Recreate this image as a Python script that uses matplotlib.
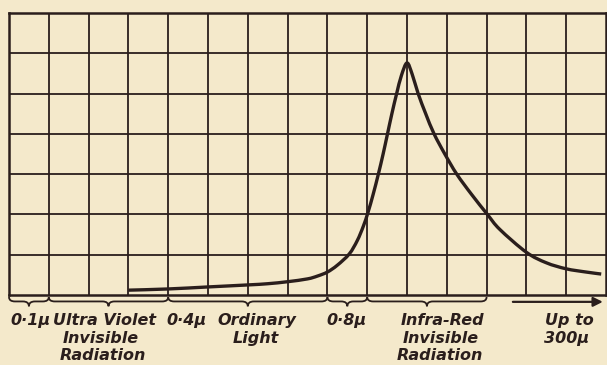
import numpy as np
import matplotlib
matplotlib.use("Agg")
import matplotlib.pyplot as plt
from matplotlib.path import Path
from matplotlib.patches import PathPatch

# spectrum curve, in grid squares (x) and squares of height (y)
curve_x = [3.0, 4.0, 5.0, 6.0, 6.5, 7.0, 7.5, 7.75, 8.0, 8.25, 8.55, 8.75, 8.9,
           9.02, 9.15, 9.28, 9.4, 9.51, 9.62, 9.74, 9.86, 10.0, 10.13, 10.28,
           10.47, 10.68, 10.95, 11.25, 11.62, 12.02, 12.33, 13.0, 13.5, 14.0,
           14.5, 14.88]
curve_y = [0.12, 0.15, 0.2, 0.25, 0.28, 0.33, 0.40, 0.47, 0.57, 0.74, 1.02, 1.35, 1.7,
           2.05, 2.5, 3.0, 3.5, 4.0, 4.5, 5.0, 5.45, 5.76, 5.48, 5.0,
           4.5, 4.0, 3.5, 3.0, 2.5, 2.0, 1.63, 1.06, 0.8, 0.65,
           0.57, 0.52]

# bands under the axis: (start, end)
brace_spans = [(0, 1), (1, 4), (4, 8), (8, 9), (9, 12)]

# labels: (x centre, line index, text)
labels = [
    (0.53, 0, "0·1μ"),
    (2.39, 0, "Ultra Violet"),
    (2.3, 1, "Invisible"),
    (2.35, 2, "Radiation"),
    (4.45, 0, "0·4μ"),
    (6.23, 0, "Ordinary"),
    (6.2, 1, "Light"),
    (8.49, 0, "0·8μ"),
    (10.88, 0, "Infra-Red"),
    (10.85, 1, "Invisible"),
    (10.83, 2, "Radiation"),
    (14.07, 0, "Up to"),
    (14.02, 1, "300μ"),
]
line_y = [-0.74, -1.19, -1.62]

ink = "#2a1e1c"
paper = "#f4e9cb"


def smooth_path(xs, ys):
    # Catmull-Rom through the points, written as cubic Bezier segments
    p = np.column_stack([xs, ys])
    verts = [tuple(p[0])]
    codes = [Path.MOVETO]
    n = len(p)
    for i in range(n - 1):
        p0 = p[i - 1] if i > 0 else p[i]
        p1, p2 = p[i], p[i + 1]
        p3 = p[i + 2] if i + 2 < n else p[i + 1]
        c1 = p1 + (p2 - p0) / 6
        c2 = p2 - (p3 - p1) / 6
        verts += [tuple(c1), tuple(c2), tuple(p2)]
        codes += [Path.CURVE4] * 3
    return Path(verts, codes)


fig = plt.figure(figsize=(6.07, 3.65), dpi=100, facecolor=paper)
ax = fig.add_axes([9 / 607, 70 / 365, 597 / 607, 282 / 365])
ax.set_facecolor(paper)
ax.set_xlim(0, 15)
ax.set_ylim(0, 7)
ax.set_xticks([])
ax.set_yticks([])

for i in range(1, 15):
    ax.axvline(i, color=ink, lw=1.3, zorder=1)
for j in range(1, 7):
    ax.axhline(j, color=ink, lw=1.3, zorder=1)
for s in ax.spines.values():
    s.set_color(ink)
    s.set_linewidth(1.8)

ax.add_patch(PathPatch(smooth_path(curve_x, curve_y), fill=False,
                       edgecolor=ink, lw=2.4, zorder=3, capstyle="butt"))


def brace(x0, x1, y_top=-0.05, y_mid=-0.16, y_tip=-0.28, r=0.15):
    xt = (x0 + x1) / 2
    verts = [(x0, y_top), (x0, y_mid), (x0 + r, y_mid),
             (xt - r, y_mid), (xt, y_mid), (xt, y_tip),
             (xt, y_mid), (xt + r, y_mid),
             (x1 - r, y_mid), (x1, y_mid), (x1, y_top)]
    codes = [Path.MOVETO, Path.CURVE3, Path.CURVE3,
             Path.LINETO, Path.CURVE3, Path.CURVE3,
             Path.CURVE3, Path.CURVE3,
             Path.LINETO, Path.CURVE3, Path.CURVE3]
    p = PathPatch(Path(verts, codes), fill=False, edgecolor=ink, lw=1.3,
                  clip_on=False, transform=ax.transData)
    ax.add_patch(p)


for a, b in brace_spans:
    brace(a, b)

ax.annotate("", xy=(14.92, -0.17), xytext=(12.66, -0.17),
            arrowprops=dict(arrowstyle="-|>", color=ink, lw=1.6,
                            mutation_scale=14, shrinkA=0, shrinkB=0),
            annotation_clip=False)

for x, row, t in labels:
    ax.text(x, line_y[row], t, ha="center", va="baseline", fontsize=11.5,
            style="italic", weight="bold", color=ink, family="DejaVu Sans",
            clip_on=False)

fig.savefig("out.png", dpi=100, facecolor=paper)
